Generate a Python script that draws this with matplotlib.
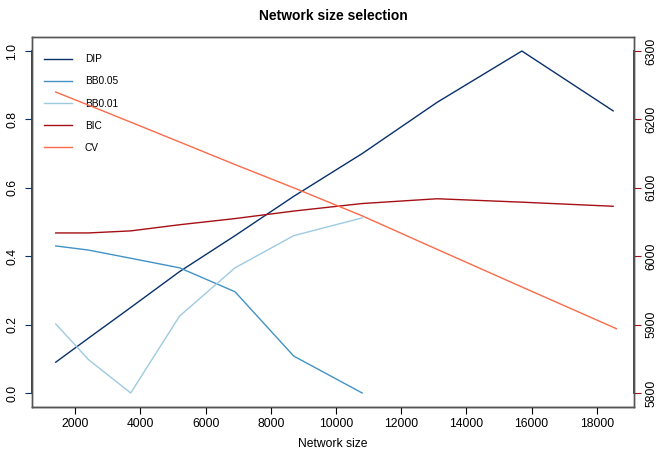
import numpy as np
import matplotlib.pyplot as plt

plt.rcParams['font.family'] = ['Liberation Sans', 'DejaVu Sans']

# network sizes per method
size_dip = [1400, 2400, 3700, 5200, 6900, 8700, 10800, 13100, 15700, 18500]
size_bb05 = [1400, 2400, 3700, 5200, 6900, 8700, 10800]
size_bb01 = [1400, 2400, 3700, 5200, 6900, 8700, 10800]
size_bic = [1400, 2400, 3700, 5200, 6900, 8700, 10800, 13100, 15700, 18500]
size_cv = [1400, 2400, 3700, 5200, 6900, 8700, 10800, 13100, 15700, 18600]

# left axis (scaled scores)
dip = [0.09, 0.16, 0.25, 0.355, 0.46, 0.575, 0.70, 0.85, 1.0, 0.825]
bb05 = [0.43, 0.418, 0.394, 0.366, 0.296, 0.108, 0.0]
bb01 = [0.202, 0.098, 0.0, 0.225, 0.366, 0.46, 0.512]

# right axis
bic = [6034, 6034, 6037, 6046, 6055, 6066, 6077, 6084, 6079, 6073]
cv = [6240, 6221, 6196, 6167, 6134, 6100, 6059, 6010, 5955, 5894]

labels = ['DIP', 'BB0.05', 'BB0.01', 'BIC', 'CV']
colors = ['#08306B', '#4292C6', '#9ECAE1', '#A50F15', '#FB6A4A']

fig = plt.figure(figsize=(6.58, 4.51), dpi=100)
ax = fig.add_axes([32/658, 1-407/451, 602/658, 370/451])
ax2 = ax.twinx()

h1, = ax.plot(size_dip, dip, color=colors[0], lw=1.0)
h2, = ax.plot(size_bb05, bb05, color=colors[1], lw=1.0)
h3, = ax.plot(size_bb01, bb01, color=colors[2], lw=1.0)
h4, = ax2.plot(size_bic, bic, color=colors[3], lw=1.0)
h5, = ax2.plot(size_cv, cv, color=colors[4], lw=1.0)

ax.set_xlim(672, 19140)
ax.set_ylim(-0.041, 1.041)
ax2.set_ylim(5800 - 0.041*500, 5800 + 1.041*500)

ax.set_xticks(np.arange(2000, 18001, 2000))
ax.set_yticks([0.0, 0.2, 0.4, 0.6, 0.8, 1.0])
ax.set_yticklabels(['0.0', '0.2', '0.4', '0.6', '0.8', '1.0'])
ax2.set_yticks([5800, 5900, 6000, 6100, 6200, 6300])

ax.tick_params(axis='x', length=5, labelsize=8.7, pad=3)
ax.tick_params(axis='y', length=5, labelsize=8.7, pad=5, colors=colors[0], labelcolor='black')
ax2.tick_params(axis='y', length=5, labelsize=8.7, pad=3, colors=colors[3], labelcolor='black')
for lab in ax.get_yticklabels():
    lab.set_rotation(90)
    lab.set_va('center')
for lab in ax2.get_yticklabels():
    lab.set_rotation(90)
    lab.set_va('center')

for a in (ax, ax2):
    for s in a.spines.values():
        s.set_color('#555555')
        s.set_linewidth(1.0)
ax.spines['bottom'].set_color('black')

# coloured axis lines over the tick range
ax.plot([0, 0], [0, 1], transform=ax.get_yaxis_transform(), color=colors[0], lw=1.3, clip_on=False)
ax2.plot([1, 1], [5800, 6300], transform=ax2.get_yaxis_transform(), color=colors[3], lw=1.3, clip_on=False)

ax.set_xlabel('Network size', fontsize=8.7, labelpad=6)
ax.set_title('Network size selection', fontsize=10, fontweight='bold', pad=12)

ax.legend([h1, h2, h3, h4, h5], labels, loc='upper left', bbox_to_anchor=(0.005, 0.978),
          frameon=False, fontsize=7.3, handlelength=2.7, handletextpad=1.3, labelspacing=1.2)

plt.savefig('out.png', dpi=100)
